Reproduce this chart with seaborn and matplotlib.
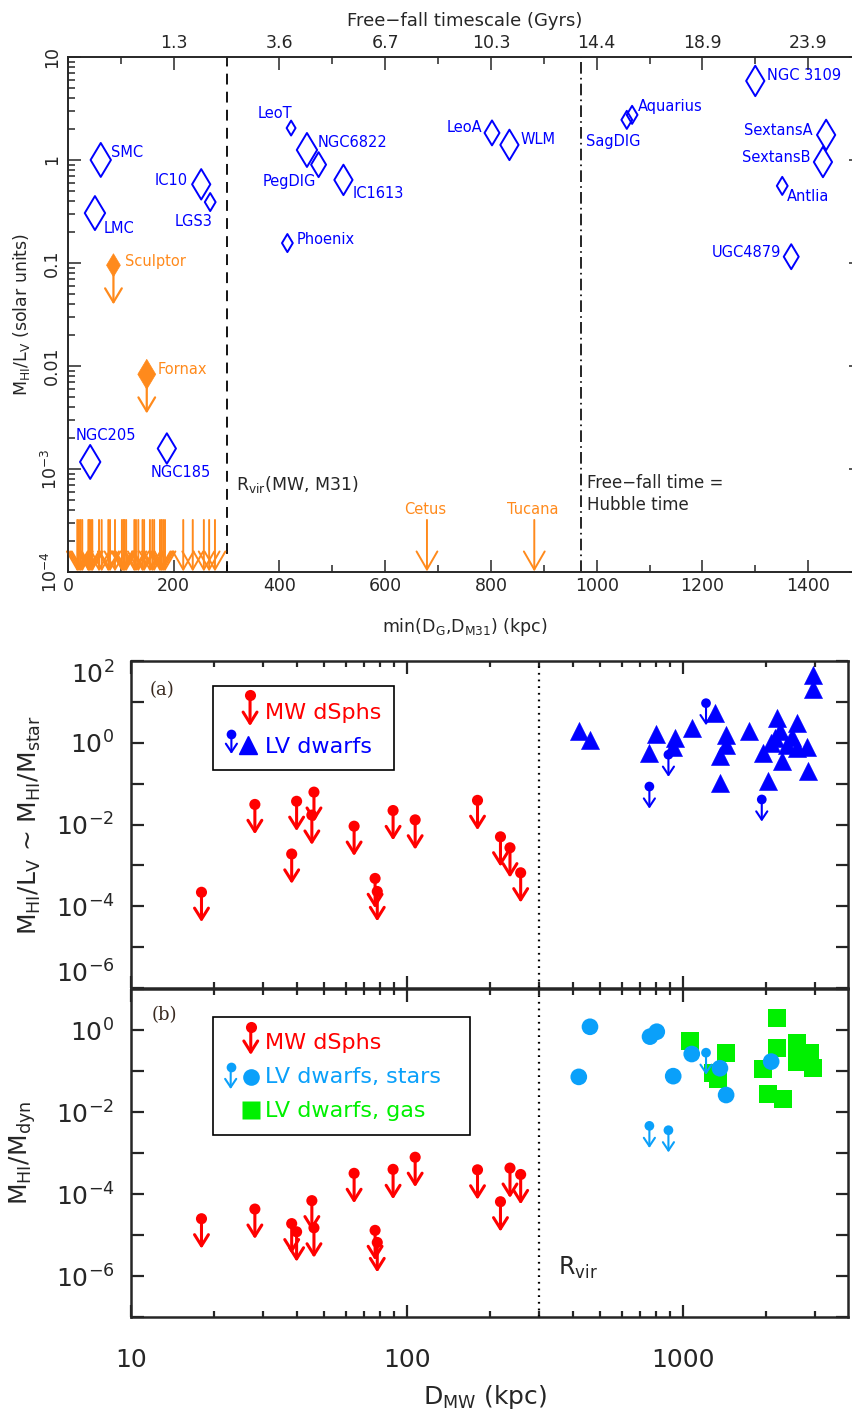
import matplotlib
matplotlib.use("Agg")
import matplotlib.pyplot as plt
import seaborn as sns
from matplotlib.patches import Rectangle
from matplotlib.ticker import (FixedFormatter, FixedLocator, LogLocator,
                               MultipleLocator, NullFormatter)

# ---------------- top panel data (linear distance axis) ----------------
# HI-detected dwarfs: min(D_G, D_M31) in kpc and M_HI/L_V in solar units
det_name = ["SMC", "LMC", "IC10", "LGS3", "LeoT", "NGC6822", "PegDIG",
            "IC1613", "Phoenix", "NGC205", "NGC185", "LeoA", "WLM",
            "SagDIG", "Aquarius", "NGC 3109", "SextansA", "SextansB",
            "Antlia", "UGC4879"]
det_dist = [62, 51, 252, 269, 422, 452, 474, 521, 415, 42, 187, 802, 835,
            1057, 1067, 1300, 1434, 1428, 1351, 1368]
det_ratio = [1.0, 0.305, 0.58, 0.39, 2.04, 1.25, 0.9, 0.64, 0.156, 1.17e-3,
             1.58e-3, 1.83, 1.4, 2.45, 2.74, 5.85, 1.75, 0.955, 0.56, 0.115]
# symbol size class (larger symbol = more HI)
det_class = [4, 4, 3, 1, 0, 4, 2, 3, 1, 4, 3, 2, 3, 1, 1, 3, 3, 3, 1, 2]

# dSphs with HI upper limits drawn as filled symbols
dsph_name = ["Sculptor", "Fornax"]
dsph_dist = [86, 149]
dsph_ratio = [0.095, 0.0083]
dsph_class = [1, 2]

# non-detections drawn as arrows along the bottom
nondet_dist = [17.6, 20.8, 24, 27, 38.5, 40.4, 43.5, 46, 58.7, 63.7, 76.3,
               79.5, 88.9, 102, 104.7, 107, 110, 125.5, 128.6, 133, 141, 144,
               155, 159.5, 163, 174, 177, 180, 183.5, 218, 236, 257, 267, 278]
nondet_level = 3.2e-4
far_name = ["Cetus", "Tucana"]
far_dist = [679, 882]

# free-fall timescale along the top axis
ff_tick_kpc = [200, 400, 600, 800, 1000, 1200, 1400]
ff_time = ["1.3", "3.6", "6.7", "10.3", "14.4", "18.9", "23.9"]
rvir_kpc = 300
hubble_kpc = 970

# ---------------- bottom panels data (log distance axis) ----------------
mw_dist = [18.0, 28.1, 38.2, 39.8, 46, 45.2, 64.3, 76.6, 78, 89, 107, 180,
           218, 236, 258]
mw_hi_lv = [2.2e-4, 0.031, 1.9e-3, 0.037, 0.062, 0.017, 0.0091, 4.8e-4,
            2.3e-4, 0.022, 0.013, 0.039, 5.0e-3, 2.7e-3, 6.6e-4]
mw_hi_dyn = [2.5e-5, 4.3e-5, 1.9e-5, 1.2e-5, 1.5e-5, 6.9e-5, 3.2e-4, 1.3e-5,
             6.6e-6, 4.0e-4, 7.9e-4, 3.9e-4, 6.5e-5, 4.3e-4, 3.0e-4]

lv_dist = [418, 460, 798, 755, 935, 921, 1075, 1306, 1432, 1432, 1360, 1360,
           1738, 2183, 1944, 2036, 2154, 2245, 2376, 2275, 2584, 2584, 2807,
           2844, 2966, 2966, 2483, 2080]
lv_hi_lv = [1.89, 1.18, 1.66, 0.56, 1.3, 0.81, 2.28, 5.3, 1.57, 0.89, 0.47,
            0.105, 1.89, 4.0, 0.56, 0.115, 1.3, 1.89, 0.89, 0.35, 3.0, 0.74,
            0.79, 0.2, 45, 20.4, 1.42, 1.0]
lv_lim_dist = [1211, 885, 755, 1928]
lv_lim_hi_lv = [9.3, 0.51, 0.085, 0.041]

star_dist = [460, 419, 759, 803, 921, 1075, 1360, 1432, 2085]
star_hi_dyn = [1.2, 0.072, 0.69, 0.91, 0.075, 0.26, 0.117, 0.026, 0.17]
star_lim_dist = [1211, 755, 885]
star_lim_hi_dyn = [0.28, 4.6e-3, 3.6e-3]

gas_dist = [1060, 1432, 1288, 1341, 2183, 2183, 1944, 2036, 2296, 2584, 2584,
            2887, 2966]
gas_hi_dyn = [0.55, 0.28, 0.088, 0.063, 1.93, 0.36, 0.11, 0.027, 0.021, 0.47,
              0.17, 0.27, 0.12]

BLUE = "#0000ff"
ORANGE = "#ff8a1c"
RED = "#ff0000"
SKY = "#0aa0fa"
GREEN = "#00f000"

sns.set_style("ticks")
plt.rcParams["font.family"] = ["DejaVu Sans"]
plt.rcParams["mathtext.default"] = "regular"

fig = plt.figure(figsize=(8.53, 14.20), dpi=100)


def down_arrow(ax, x, y, dex, color, lw, hl, hw, z=3):
    ax.annotate("", xy=(x, y * 10 ** (-dex)), xytext=(x, y),
                arrowprops=dict(arrowstyle=f"->,head_length={hl},head_width={hw}",
                                color=color, lw=lw, shrinkA=0, shrinkB=0),
                annotation_clip=False, zorder=z)


# ======================= top panel =======================
ax = fig.add_axes([0.0797, 0.5972, 0.9297, 0.3627])
ax.set_yscale("log")

class_ms = {0: 7.6, 1: 9.2, 2: 12.7, 3: 15.5, 4: 17.3}
ax.scatter(det_dist, det_ratio, s=[class_ms[c] ** 2 for c in det_class],
           marker="d", facecolors="none", edgecolors=BLUE, linewidths=1.4,
           zorder=3)

sns.scatterplot(x=dsph_dist, y=dsph_ratio, ax=ax, marker="d",
                s=[(class_ms[c] + 2.5) ** 2 for c in dsph_class],
                color=ORANGE, edgecolor=ORANGE, linewidth=0.5, zorder=3,
                legend=False)
for x, y in zip(dsph_dist, dsph_ratio):
    down_arrow(ax, x, y, 0.38, ORANGE, 1.6, 1.0, 0.6)

for x in nondet_dist + far_dist:
    down_arrow(ax, x, nondet_level, 0.5, ORANGE, 1.4, 1.3, 0.75)

label_offset = {
    "SMC": (10, 7, "left"), "LMC": (9, -15, "left"), "IC10": (-13, 4, "right"),
    "LGS3": (2, -19, "right"), "LeoT": (1, 15, "right"),
    "NGC6822": (11, 7, "left"), "PegDIG": (-3, -17, "right"),
    "IC1613": (9, -14, "left"), "Phoenix": (9, 4, "left"),
    "NGC205": (-15, 26, "left"), "NGC185": (-16, -24, "left"),
    "LeoA": (-10, 5, "right"), "WLM": (11, 5, "left"),
    "SagDIG": (-41, -22, "left"), "Aquarius": (6, 8, "left"),
    "NGC 3109": (12, 5, "left"), "SextansA": (-13, 4, "right"),
    "SextansB": (-12, 5, "right"), "Antlia": (5, -11, "left"),
    "UGC4879": (-10, 4, "right"),
    "Sculptor": (12, 4, "left"), "Fornax": (11, 5, "left"),
}
for name, x, y in zip(det_name + dsph_name, det_dist + dsph_dist,
                      det_ratio + dsph_ratio):
    dx, dy, ha = label_offset[name]
    ax.annotate(name, xy=(x, y), xytext=(dx, dy), textcoords="offset pixels",
                ha=ha, va="center", fontsize=10.5,
                color=BLUE if name in det_name else ORANGE)
for name, x in zip(far_name, far_dist):
    ax.annotate(name, xy=(x, nondet_level), xytext=(-2, 3),
                textcoords="offset pixels", ha="center", va="bottom",
                fontsize=10.5, color=ORANGE)

ax.axvline(rvir_kpc, color="black", lw=1.3, dashes=(6, 4), zorder=1)
ax.axvline(hubble_kpc, color="black", lw=1.2, dashes=(7, 2.5, 1, 2.5),
           zorder=1)
ax.text(rvir_kpc + 17, 7e-4, r"R$_{\rm vir}$(MW, M31)", fontsize=12.5,
        ha="left", va="center")
ax.text(hubble_kpc + 12, 5.7e-4, "Free\u2212fall time =\nHubble time",
        fontsize=12, ha="left", va="center", linespacing=1.3)

ax.set_xlim(0, 1500)
ax.set_ylim(1e-4, 10)
ax.xaxis.set_major_locator(MultipleLocator(200))
ax.xaxis.set_minor_locator(MultipleLocator(100))
y_major = [1e-4, 1e-3, 1e-2, 1e-1, 1, 10]
ax.yaxis.set_major_locator(FixedLocator(y_major))
ax.yaxis.set_major_formatter(FixedFormatter(
    [r"$10^{-4}$", r"$10^{-3}$", "0.01", "0.1", "1", "10"]))
ax.yaxis.set_minor_locator(LogLocator(base=10, subs=range(2, 10), numticks=20))
ax.yaxis.set_minor_formatter(NullFormatter())
ax.tick_params(which="both", direction="in", top=False, right=True,
               labelsize=12.5, width=1.1)
ax.tick_params(which="major", length=9)
ax.tick_params(which="minor", length=5)
ax.tick_params(axis="y", pad=5)
plt.setp(ax.get_yticklabels(), rotation=90, va="center")
for sp in ax.spines.values():
    sp.set_linewidth(1.2)
ax.set_xlabel(r"min(D$_{\rm G}$,D$_{\rm M31}$) (kpc)", fontsize=12.5)
ax.xaxis.set_label_coords(0.5, -0.085)
ax.set_ylabel(r"M$_{\rm HI}$/L$_{\rm V}$ (solar units)", fontsize=12.5)
ax.yaxis.set_label_coords(-0.045, 0.5)

ax_top = ax.twiny()
ax_top.set_xlim(ax.get_xlim())
ax_top.xaxis.set_major_locator(FixedLocator(ff_tick_kpc))
ax_top.xaxis.set_major_formatter(FixedFormatter(ff_time))
ax_top.xaxis.set_minor_locator(MultipleLocator(100))
ax_top.tick_params(which="both", direction="in", labelsize=12.5, width=1.1)
ax_top.tick_params(which="major", length=9)
ax_top.tick_params(which="minor", length=5)
ax_top.set_xlabel("Free\u2212fall timescale (Gyrs)", fontsize=13)
ax_top.xaxis.set_label_coords(0.5, 1.06)
for sp in ax_top.spines.values():
    sp.set_linewidth(1.2)

# ======================= bottom panels =======================
ax_a = fig.add_axes([0.1536, 0.3042, 0.8406, 0.2303])
ax_b = fig.add_axes([0.1536, 0.0725, 0.8406, 0.2310], sharex=ax_a)
for a in (ax_a, ax_b):
    a.set_xscale("log")
    a.set_yscale("log")

# panel (a): M_HI/L_V
for x, y in zip(mw_dist, mw_hi_lv):
    down_arrow(ax_a, x, y, 0.73, RED, 2.2, 0.8, 0.5)
sns.scatterplot(x=mw_dist, y=mw_hi_lv, ax=ax_a, s=8 ** 2, color=RED,
                edgecolor="none", zorder=4, legend=False)
for x, y in zip(lv_lim_dist, lv_lim_hi_lv):
    down_arrow(ax_a, x, y, 0.54, BLUE, 1.5, 0.6, 0.4)
sns.scatterplot(x=lv_lim_dist, y=lv_lim_hi_lv, ax=ax_a, s=7 ** 2, color=BLUE,
                edgecolor="none", zorder=4, legend=False)
sns.scatterplot(x=lv_dist, y=lv_hi_lv, ax=ax_a, marker="^", s=13 ** 2,
                color=BLUE, edgecolor=BLUE, linewidth=0.4, zorder=5,
                legend=False)

# panel (b): M_HI/M_dyn
for x, y in zip(mw_dist, mw_hi_dyn):
    down_arrow(ax_b, x, y, 0.73, RED, 2.2, 0.8, 0.5)
sns.scatterplot(x=mw_dist, y=mw_hi_dyn, ax=ax_b, s=8 ** 2, color=RED,
                edgecolor="none", zorder=4, legend=False)
sns.scatterplot(x=gas_dist, y=gas_hi_dyn, ax=ax_b, marker="s", s=13 ** 2,
                color=GREEN, edgecolor="none", zorder=3, legend=False)
for x, y in zip(star_lim_dist, star_lim_hi_dyn):
    down_arrow(ax_b, x, y, 0.54, SKY, 1.5, 0.6, 0.4, z=5)
sns.scatterplot(x=star_lim_dist, y=star_lim_hi_dyn, ax=ax_b, s=7 ** 2,
                color=SKY, edgecolor="none", zorder=5, legend=False)
sns.scatterplot(x=star_dist, y=star_hi_dyn, ax=ax_b, s=12 ** 2, color=SKY,
                edgecolor="none", zorder=5, legend=False)

ax_a.set_xlim(10, 3960)
ax_a.set_ylim(1e-6, 1e2)
ax_b.set_ylim(1e-7, 1e1)

for a in (ax_a, ax_b):
    a.axvline(rvir_kpc, color="black", lw=1.6, dashes=(0.8, 2.2), zorder=1)
    a.tick_params(which="both", direction="in", top=True, right=True,
                  labelsize=18, width=1.6)
    a.tick_params(which="major", length=9)
    a.tick_params(which="minor", length=4.5)
    a.tick_params(axis="y", which="minor", length=9)
    a.tick_params(axis="y", pad=12)
    a.tick_params(axis="x", pad=22)
    for sp in a.spines.values():
        sp.set_linewidth(1.8)

ax_a.yaxis.set_major_locator(FixedLocator([1e-6, 1e-4, 1e-2, 1, 1e2]))
ax_a.yaxis.set_major_formatter(FixedFormatter(
    [r"$10^{-6}$", r"$10^{-4}$", r"$10^{-2}$", r"$10^{0}$", r"$10^{2}$"]))
ax_a.yaxis.set_minor_locator(FixedLocator([1e-5, 1e-3, 1e-1, 1e1]))
ax_a.yaxis.set_minor_formatter(NullFormatter())
ax_b.yaxis.set_major_locator(FixedLocator([1e-6, 1e-4, 1e-2, 1]))
ax_b.yaxis.set_major_formatter(FixedFormatter(
    [r"$10^{-6}$", r"$10^{-4}$", r"$10^{-2}$", r"$10^{0}$"]))
ax_b.yaxis.set_minor_locator(FixedLocator([1e-7, 1e-5, 1e-3, 1e-1, 1e1]))
ax_b.yaxis.set_minor_formatter(NullFormatter())
ax_b.xaxis.set_major_locator(FixedLocator([10, 100, 1000]))
ax_b.xaxis.set_major_formatter(FixedFormatter(["10", "100", "1000"]))
ax_b.xaxis.set_minor_locator(LogLocator(base=10, subs=range(2, 10), numticks=20))
ax_b.xaxis.set_minor_formatter(NullFormatter())
plt.setp(ax_a.get_xticklabels(), visible=False)

# keep the end labels of panel (a) inside its frame, as in the original
ya_labels = ax_a.get_yticklabels()
ya_labels[0].set_va("bottom")
ya_labels[-1].set_va("top")

ax_a.set_ylabel(r"M$_{\rm HI}$/L$_{\rm V}$ ~ M$_{\rm HI}$/M$_{\rm star}$",
                fontsize=18)
ax_a.yaxis.set_label_coords(-0.123, 0.5)
ax_b.set_ylabel(r"M$_{\rm HI}$/M$_{\rm dyn}$", fontsize=18)
ax_b.yaxis.set_label_coords(-0.13, 0.5)
ax_b.set_xlabel(r"D$_{\rm MW}$ (kpc)", fontsize=18)
ax_b.xaxis.set_label_coords(0.494, -0.2)

ax_b.text(352, 1.6e-6, r"R$_{\rm vir}$", fontsize=17, ha="left", va="center")
ax_a.text(0.026, 0.911, "(a)", transform=ax_a.transAxes, fontsize=13,
          family="serif", color="#3a2a20", va="center")
ax_b.text(0.029, 0.921, "(b)", transform=ax_b.transAxes, fontsize=13,
          family="serif", color="#3a2a20", va="center")


# hand-built legends (upper-limit glyphs are not standard handles)
def legend_limit(a, x, y0, y1, color, ms, lw, hl, hw):
    a.annotate("", xy=(x, y1), xytext=(x, y0), xycoords="axes fraction",
               textcoords="axes fraction",
               arrowprops=dict(arrowstyle=f"->,head_length={hl},head_width={hw}",
                               color=color, lw=lw, shrinkA=0, shrinkB=0))
    a.plot([x], [y0], "o", ms=ms, color=color, mec="none",
           transform=a.transAxes)


ax_a.add_patch(Rectangle((0.114, 0.667), 0.253, 0.257, transform=ax_a.transAxes,
                         fill=False, lw=1.2, ec="black", zorder=6))
legend_limit(ax_a, 0.166, 0.896, 0.801, RED, 8, 2.2, 0.8, 0.5)
legend_limit(ax_a, 0.140, 0.777, 0.716, BLUE, 7, 1.5, 0.6, 0.4)
ax_a.plot([0.163], [0.742], "^", ms=13, color=BLUE, transform=ax_a.transAxes)
ax_a.text(0.187, 0.841, "MW dSphs", color=RED, fontsize=16, va="center",
          transform=ax_a.transAxes)
ax_a.text(0.187, 0.737, "LV dwarfs", color=BLUE, fontsize=16, va="center",
          transform=ax_a.transAxes)

ax_b.add_patch(Rectangle((0.114, 0.555), 0.359, 0.360, transform=ax_b.transAxes,
                         fill=False, lw=1.2, ec="black", zorder=6))
legend_limit(ax_b, 0.167, 0.885, 0.799, RED, 8, 2.2, 0.8, 0.5)
legend_limit(ax_b, 0.139, 0.761, 0.695, SKY, 7, 1.5, 0.6, 0.4)
ax_b.plot([0.167], [0.732], "o", ms=12, color=SKY, mec="none",
          transform=ax_b.transAxes)
ax_b.plot([0.167], [0.630], "s", ms=13, color=GREEN, mec="none",
          transform=ax_b.transAxes)
ax_b.text(0.187, 0.834, "MW dSphs", color=RED, fontsize=16, va="center",
          transform=ax_b.transAxes)
ax_b.text(0.187, 0.732, "LV dwarfs, stars", color=SKY, fontsize=16,
          va="center", transform=ax_b.transAxes)
ax_b.text(0.187, 0.628, "LV dwarfs, gas", color=GREEN, fontsize=16,
          va="center", transform=ax_b.transAxes)

fig.savefig("out.png", dpi=100, facecolor="white")
